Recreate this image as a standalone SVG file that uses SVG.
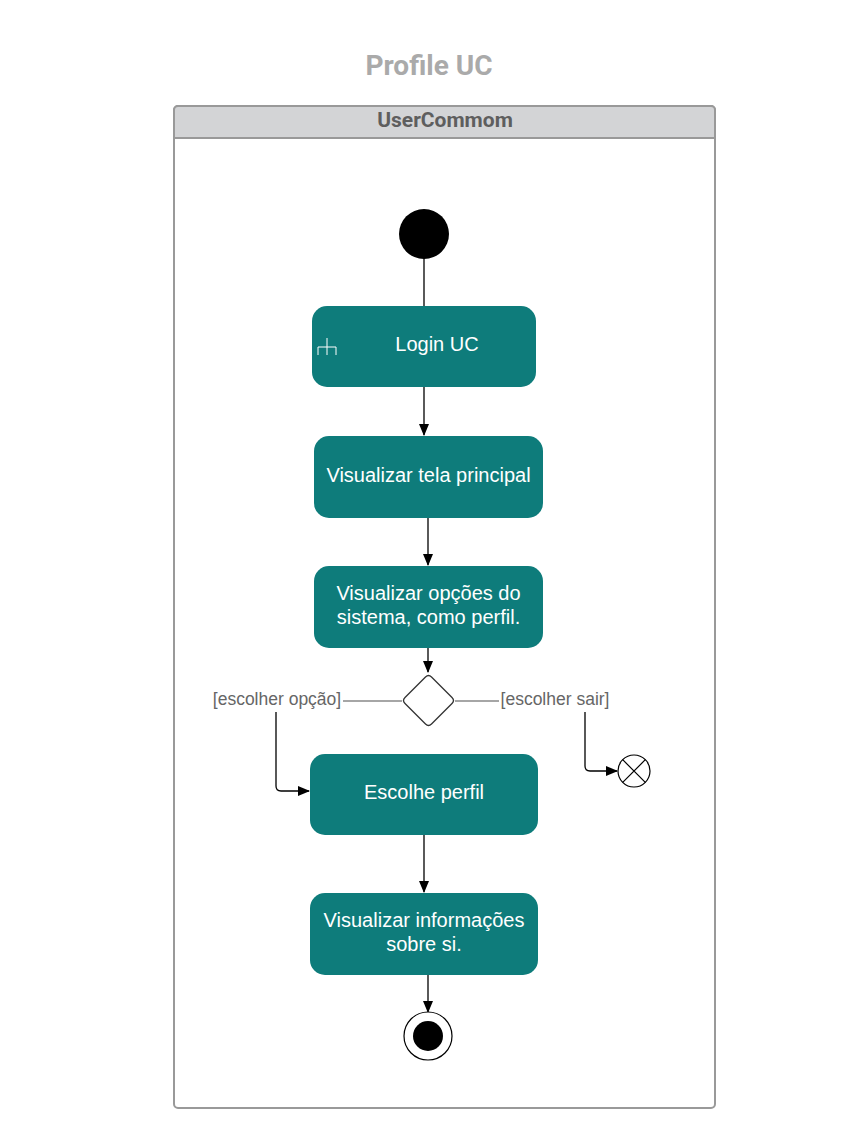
<svg xmlns="http://www.w3.org/2000/svg" width="858" height="1141" viewBox="0 0 858 1141">
<style>
.act{fill:#0e7c7b;}
.at{font-family:"Liberation Sans",Arial,sans-serif;font-size:20px;fill:#ffffff;text-anchor:middle;}
.lbl{font-family:"Liberation Sans",Arial,sans-serif;font-size:17.5px;fill:#666666;text-anchor:middle;}
.ln{fill:none;stroke:#000;stroke-width:1.3;}
.gl{fill:none;stroke:#888;stroke-width:1.5;}
</style>
<defs>
<marker id="arr" markerWidth="12" markerHeight="10" refX="11" refY="5" orient="auto" markerUnits="userSpaceOnUse">
<path d="M0,0 L12,5 L0,10 Z" fill="#000"/>
</marker>
</defs>
<rect width="858" height="1141" fill="#fff"/>
<text x="429" y="75" font-family="Roboto,'Liberation Sans',sans-serif" font-size="28" font-weight="bold" fill="#aaaaaa" text-anchor="middle">Profile UC</text>
<g id="pool">
<rect x="174" y="106" width="541" height="1002" rx="4" fill="#fff" stroke="#999" stroke-width="2"/>
<path d="M174,138 V110 a4,4 0 0 1 4,-4 H711 a4,4 0 0 1 4,4 V138 Z" fill="#d3d4d6" stroke="#999" stroke-width="2"/>
<text x="445" y="127" font-family="Roboto,'Liberation Sans',sans-serif" font-size="21" font-weight="bold" fill="#5e5e5e" text-anchor="middle">UserCommom</text>
</g>
<g id="connectors">
<path class="ln" d="M424,258 V306"/>
<path class="ln" d="M424,387 V435" marker-end="url(#arr)"/>
<path class="ln" d="M428,518 V565" marker-end="url(#arr)"/>
<path class="ln" d="M428,648 V672" marker-end="url(#arr)"/>
<path class="gl" d="M402,701 H343"/>
<path class="gl" d="M455,701 H499"/>
<path class="ln" d="M276,712 V786 q0,5 5,5 H309" marker-end="url(#arr)"/>
<path class="ln" d="M585,712 V766 q0,5 5,5 H617" marker-end="url(#arr)"/>
<path class="ln" d="M424,835 V892" marker-end="url(#arr)"/>
<path class="ln" d="M428,975 V1012" marker-end="url(#arr)"/>
<text class="lbl" x="277" y="705">[escolher opção]</text>
<text class="lbl" x="555" y="705">[escolher sair]</text>
</g>
<g id="start">
<circle cx="424" cy="234" r="25" fill="#000"/>
</g>
<g id="login">
<rect class="act" x="312" y="306" width="224" height="81" rx="15"/>
<path d="M318,355 V347 H336 V355 M327,338 V355" fill="none" stroke="#fff" stroke-width="1"/>
<text class="at" x="437" y="351">Login UC</text>
</g>
<g id="tela">
<rect class="act" x="314" y="436" width="229" height="82" rx="15"/>
<text class="at" x="428.5" y="482">Visualizar tela principal</text>
</g>
<g id="opcoes">
<rect class="act" x="314" y="566" width="229" height="82" rx="15"/>
<text class="at" x="428.5" y="600">Visualizar opções do</text>
<text class="at" x="428.5" y="624">sistema, como perfil.</text>
</g>
<g id="decision">
<path d="M425.5,677 Q428.5,674 431.5,677 L452,697.5 Q455,700.5 452,703.5 L431.5,724 Q428.5,727 425.5,724 L405,703.5 Q402,700.5 405,697.5 Z" fill="#fff" stroke="#333" stroke-width="1.3"/>
</g>
<g id="escolhe">
<rect class="act" x="310" y="754" width="228" height="81" rx="15"/>
<text class="at" x="424" y="799">Escolhe perfil</text>
</g>
<g id="info">
<rect class="act" x="310" y="893" width="228" height="82" rx="15"/>
<text class="at" x="424" y="927">Visualizar informações</text>
<text class="at" x="424" y="951">sobre si.</text>
</g>
<g id="flowfinal">
<circle cx="634" cy="771" r="16" fill="#fff" stroke="#000" stroke-width="1.2"/>
<path d="M622.7,759.7 L645.3,782.3 M645.3,759.7 L622.7,782.3" stroke="#000" stroke-width="1.2"/>
</g>
<g id="end">
<circle cx="428" cy="1036" r="24" fill="#fff" stroke="#000" stroke-width="1.2"/>
<circle cx="428" cy="1036" r="15" fill="#000"/>
</g>
</svg>
